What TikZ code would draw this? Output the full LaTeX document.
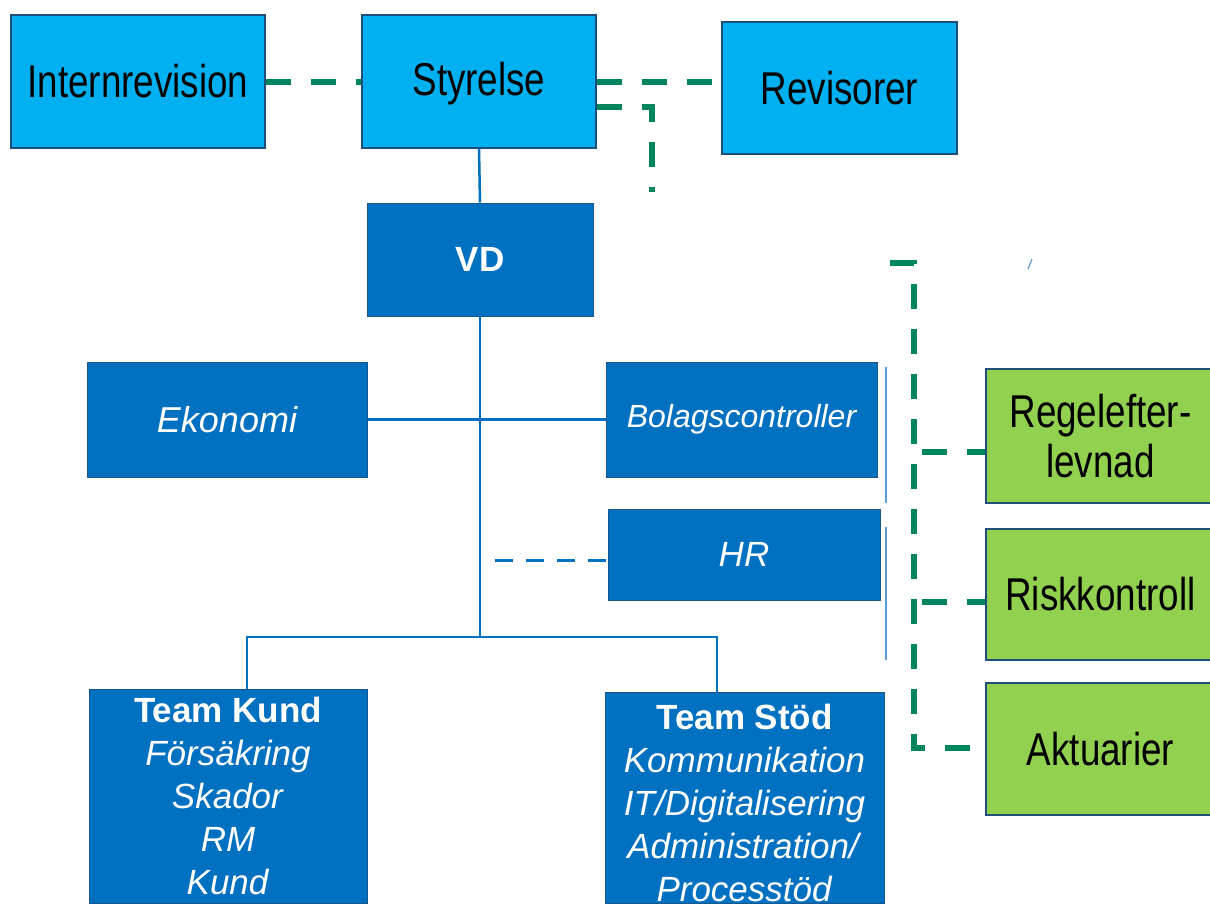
\documentclass[tikz,border=0pt]{standalone}
\usepackage{fontspec}
\setmainfont{Liberation Sans}
\newfontfamily\condfont[FakeStretch=0.8]{Liberation Sans}
\definecolor{lightblue}{HTML}{00B0F0}
\definecolor{darkblue}{HTML}{0070C0}
\definecolor{boxgreen}{HTML}{92D050}
\definecolor{edgenavy}{HTML}{1F4E79}
\definecolor{dashgreen}{HTML}{00855F}
\definecolor{thinblue}{HTML}{5B9BD5}
\tikzset{
  topbox/.style={draw=edgenavy, line width=1.5pt, fill=lightblue, inner sep=0pt,
     font=\condfont\fontsize{46}{50}\selectfont, text=black, align=center},
  greenbox/.style={draw=edgenavy, line width=1.5pt, fill=boxgreen, inner sep=0pt,
     font=\condfont\fontsize{46}{50}\selectfont, text=black, align=center},
  orgbox/.style={draw=edgenavy!70!darkblue, line width=1pt, fill=darkblue, inner sep=0pt,
     font=\fontsize{35}{43}\selectfont, text=white, align=center},
  plaintext/.style={inner sep=0pt, font=\condfont\fontsize{46}{50}\selectfont, text=black},
  conn/.style={draw=darkblue, line width=2.5pt},
  dconn/.style={draw=darkblue, line width=3pt, dash pattern=on 18pt off 13pt},
  gconn/.style={draw=dashgreen, line width=5.5pt, dash pattern=on 25pt off 20pt},
  thinline/.style={draw=thinblue, line width=1.3pt}
}
\begin{document}
\begin{tikzpicture}[x=1pt,y=-1pt]
\useasboundingbox (0,0) rectangle (1210,905);
\clip (0,0) rectangle (1210,905);
% top row
\node[topbox, minimum width=254pt, minimum height=133pt] (intern) at (138,81.5) {Internrevision};
\node[topbox, minimum width=234pt, minimum height=133pt] (styr) at (479,81.5) {};
\node[plaintext] (styrtxt) at (479,84) {Styrelse};
\node[topbox, minimum width=235pt, minimum height=132pt] (rev) at (839.5,88) {Revisorer};
% organisation
\node[orgbox, minimum width=226pt, minimum height=113pt, font=\bfseries\fontsize{35}{43}\selectfont] (vd) at (480,259.5) {VD};
\node[orgbox, minimum width=280pt, minimum height=115pt, font=\itshape\fontsize{36}{43}\selectfont] (eko) at (227,419.5) {Ekonomi};
\node[orgbox, minimum width=271pt, minimum height=115pt, font=\itshape\fontsize{32}{43}\selectfont] (bol) at (741.5,419.5) {Bolagscontroller};
\node[orgbox, minimum width=272pt, minimum height=91pt, font=\itshape\fontsize{35}{43}\selectfont] (hr) at (744,554.5) {HR};
\node[orgbox, minimum width=278pt, minimum height=214pt] (kund) at (228,796) {\textbf{Team Kund}\\\textit{Försäkring}\\\textit{Skador}\\\textit{RM}\\\textit{Kund}};
\node[orgbox, minimum width=279pt, minimum height=211pt] (stod) at (744.5,797.5) {\rule{0pt}{36pt}\textbf{Team Stöd}\\\textit{Kommunikation}\\\textit{IT/Digitalisering}\\\textit{Administration/}\\\textit{Processtöd}};
% green boxes
\node[greenbox, minimum width=229pt, minimum height=134pt] (regel) at (1100.5,436) {Regelefter-\\levnad};
\node[greenbox, minimum width=229pt, minimum height=131pt] (risk) at (1100.5,594.5) {Riskkontroll};
\node[greenbox, minimum width=229pt, minimum height=132pt] (akt) at (1100.5,749) {Aktuarier};
% coordinates
\coordinate (j) at (480,637);
\coordinate (jk) at (247,637);
\coordinate (js) at (717,637);
\coordinate (hrd) at (495,560);
\coordinate (g1) at (652,107);
\coordinate (g1e) at (652,192);
\coordinate (g2s) at (890,263);
\coordinate (g2c) at (914,263);
\coordinate (g2e) at (914,748);
\coordinate (br1) at (914,452);
\coordinate (br2) at (914,602);
\coordinate (t1) at (886,367);
\coordinate (t1e) at (886,503);
\coordinate (t2) at (886,527);
\coordinate (t2e) at (886,660);
\coordinate (tk) at (1028,269);
\coordinate (tke) at (1032,259);
% solid connectors
\draw[conn] (styr.south) -- (vd.north);
\draw[conn] (vd.south) -- (j);
\draw[conn] (eko.east) -- (bol.west);
\draw[conn] (jk |- kund.north) -- (jk) -- (js) -- (js |- stod.north);
\draw[dconn] (hrd) -- (hrd -| hr.west);
\draw[thinline] (t1) -- (t1e);
\draw[thinline] (t2) -- (t2e);
\draw[draw=thinblue, line width=1.2pt] (tk) -- (tke);
% green dashed
\draw[gconn] (intern.east |- 0,82) -- (styr.west |- 0,82);
\draw[gconn] (styr.east |- 0,82) -- (rev.west |- 0,82);
\draw[gconn] (styr.east |- g1) -- (g1) -- (g1e);
\draw[gconn] (g2s) -- (g2c) -- (g2e) -- (g2e -| akt.west);
\draw[gconn, dash phase=-8pt] (br1) -- (br1 -| regel.west);
\draw[gconn, dash phase=-8pt] (br2) -- (br2 -| risk.west);
\end{tikzpicture}
\end{document}
